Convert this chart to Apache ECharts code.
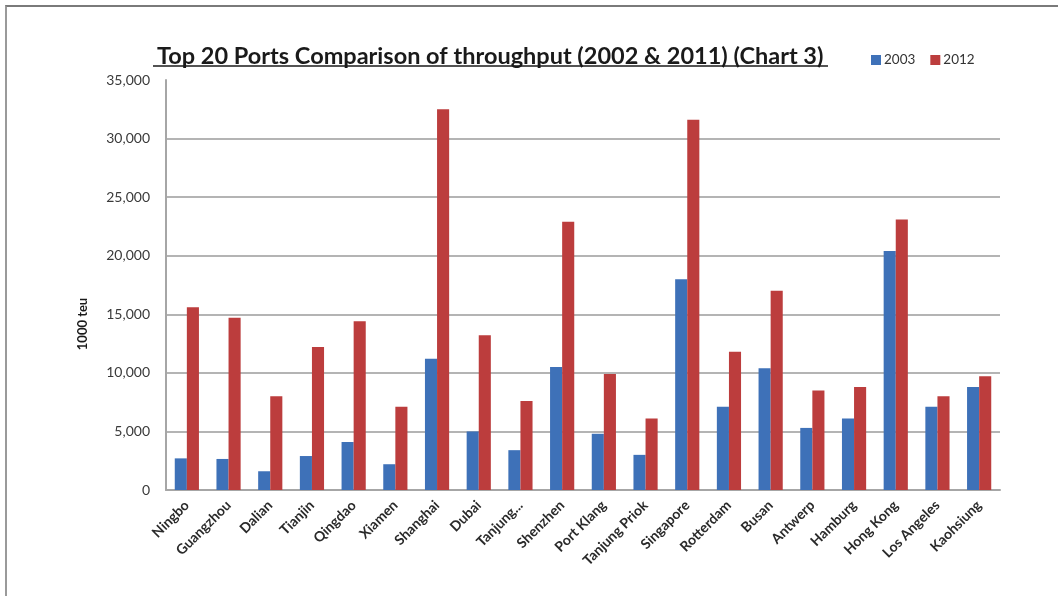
<!DOCTYPE html>
<html>
<head>
<meta charset="utf-8">
<title>Top 20 Ports Comparison of throughput</title>
<script src="https://cdn.jsdelivr.net/npm/echarts@6/dist/echarts.min.js"></script>
<style>
  html, body { margin: 0; padding: 0; background: #fff; }
  #chart { width: 1058px; height: 596px; position: relative; }
  #frame {
    position: absolute; left: 5px; top: 5px; right: 0; bottom: 0;
    border-top: 2px solid #7a7a7a; border-left: 2px solid #9a9a9a;
    pointer-events: none;
  }
</style>
</head>
<body>
<div id="chart"></div>
<div id="frame"></div>
<script>
// Container throughput by port, in thousand TEU
const ports = [
  'Ningbo', 'Guangzhou', 'Dalian', 'Tianjin', 'Qingdao', 'Xiamen', 'Shanghai',
  'Dubai', 'Tanjung...', 'Shenzhen', 'Port Klang', 'Tanjung Priok', 'Singapore',
  'Rotterdam', 'Busan', 'Antwerp', 'Hamburg', 'Hong Kong', 'Los Angeles', 'Kaohsiung'
];
const seriesNames = ['2003', '2012'];
const values2003 = [
  2700, 2650, 1600, 2900, 4100, 2200, 11200,
  5000, 3400, 10500, 4800, 3000, 18000,
  7100, 10400, 5300, 6100, 20400, 7100, 8800
];
const values2012 = [
  15600, 14700, 8000, 12200, 14400, 7100, 32500,
  13200, 7600, 22900, 9900, 6100, 31600,
  11800, 17000, 8500, 8800, 23100, 8000, 9700
];
const yMin = 0, yMax = 35000, yStep = 5000;

const titleText = 'Top 20 Ports Comparison of throughput (2002 & 2011) (Chart 3)';
const font = 'Lato, "Open Sans", sans-serif';

const chart = echarts.init(document.getElementById('chart'), null, { renderer: 'canvas' });

chart.setOption({
  backgroundColor: '#ffffff',
  animation: false,
  color: ['#3e71b8', '#bc3d3d'],
  title: {
    text: titleText,
    left: 152,
    top: 39,
    textStyle: { fontFamily: font, fontSize: 23.5, fontWeight: 'bold', color: '#1a1a1a' }
  },
  legend: {
    data: seriesNames,
    left: 866,
    top: 48,
    itemWidth: 10,
    itemHeight: 10,
    itemGap: 15,
    icon: 'rect',
    textStyle: { fontFamily: font, fontSize: 13.5, color: '#333', padding: [0, 0, 0, -2] }
  },
  grid: { left: 166, right: 58, top: 80, bottom: 106, containLabel: false },
  xAxis: {
    type: 'category',
    data: ports,
    axisLine: { lineStyle: { color: '#a6a6a6', width: 2 } },
    axisTick: { show: false },
    axisLabel: {
      rotate: 45,
      interval: 0,
      margin: 13,
      fontFamily: font,
      fontSize: 14,
      fontWeight: 'bold',
      color: '#2a2a2a'
    }
  },
  yAxis: {
    type: 'value',
    min: yMin,
    max: yMax,
    interval: yStep,
    axisLine: { show: true, lineStyle: { color: '#a6a6a6', width: 2 } },
    axisTick: { show: false },
    axisLabel: {
      margin: 16,
      fontFamily: font,
      fontSize: 14,
      color: '#3a3a3a',
      formatter: v => v.toLocaleString('en-US')
    },
    splitLine: { show: true, showMinLine: false, showMaxLine: false, lineStyle: { color: '#b4b4b4', width: 2 } }
  },
  graphic: [
    {
      type: 'line',
      shape: { x1: 153, y1: 66, x2: 828, y2: 66 },
      style: { stroke: '#1a1a1a', lineWidth: 1.5 }
    },
    {
      type: 'text',
      x: 83,
      y: 324,
      rotation: Math.PI / 2,
      style: {
        text: '1000 teu',
        fontFamily: font,
        fontSize: 13,
        fontWeight: 'bold',
        fill: '#1a1a1a',
        align: 'center',
        verticalAlign: 'middle'
      }
    }
  ],
  series: [
    {
      name: seriesNames[0],
      type: 'bar',
      data: values2003,
      barGap: '0%',
      barCategoryGap: '42%'
    },
    {
      name: seriesNames[1],
      type: 'bar',
      data: values2012,
      barGap: '0%',
      barCategoryGap: '42%'
    }
  ]
});
</script>
</body>
</html>
